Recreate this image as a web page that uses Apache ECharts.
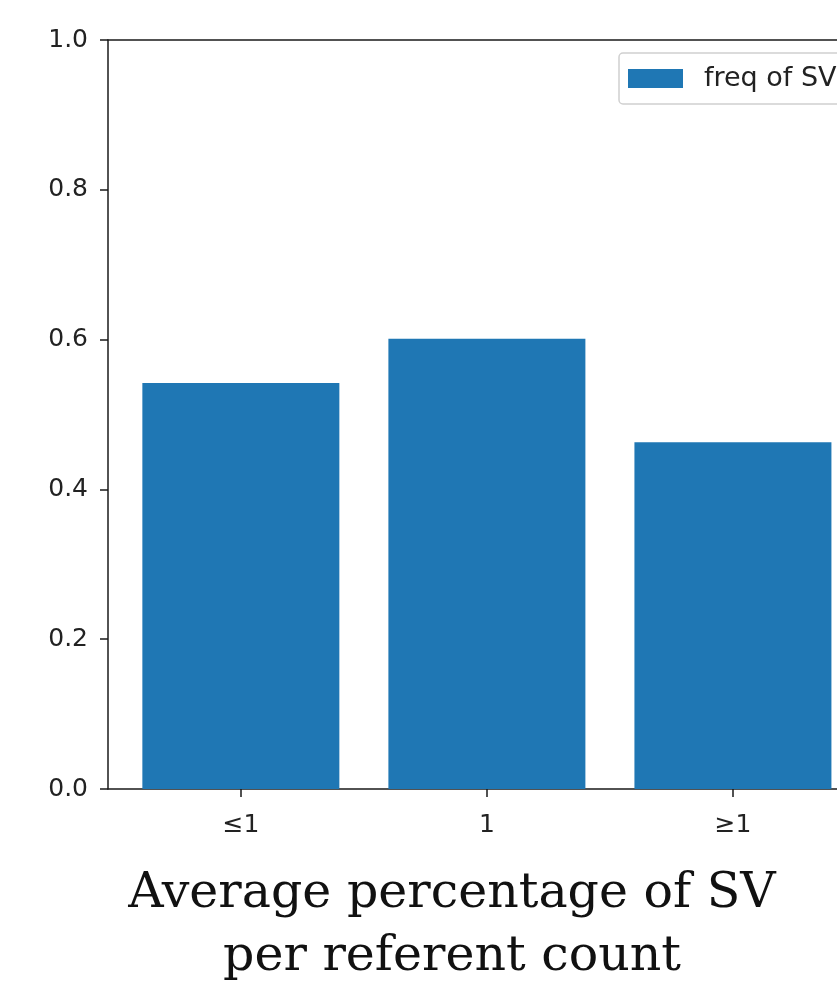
<!DOCTYPE html>
<html><head><meta charset="utf-8">
<script src="https://cdn.jsdelivr.net/npm/echarts@6/dist/echarts.min.js"></script>
<style>html,body{margin:0;padding:0;background:#fff}#c{width:837px;height:986px}</style>
</head><body><div id="c"></div>
<script>
const categories = ['≤1', '1', '≥1'];
const freqValues = [0.542, 0.601, 0.463];
const yTickValues = [0, 0.2, 0.4, 0.6, 0.8, 1.0];
const seriesName = 'freq of SV';
const titleText = 'Average percentage of SV\nper referent count';

const chart = echarts.init(document.getElementById('c'), null, {renderer: 'canvas'});
const tickFont = {fontFamily: 'DejaVu Sans', fontSize: 25, color: '#222'};
const lineCol = '#1a1a1a';
chart.setOption({
  animation: false,
  backgroundColor: '#fff',
  grid: {left: 108, top: 40, height: 749, right: 0},
  legend: {
    data: [seriesName], left: 619, top: 53, padding: [12, 200, 12, 9],
    itemWidth: 55, itemHeight: 19, itemGap: 10,
    borderColor: '#d0d0d0', borderWidth: 1.5, borderRadius: 4,
    icon: 'rect',
    textStyle: {fontFamily: 'DejaVu Sans', fontSize: 27, color: '#222', padding: [0, 0, 0, 16]}
  },
  xAxis: [{
    type: 'value', min: -0.54, max: 2.423,
    splitLine: {show: false},
    axisLine: {show: true, onZero: false, lineStyle: {color: lineCol, width: 1.5}},
    axisTick: {show: true, length: 8, lineStyle: {color: lineCol, width: 1.5}, customValues: [0, 1, 2]},
    axisLabel: Object.assign({margin: 24, customValues: [0, 1, 2], formatter: v => categories[Math.round(v)]}, tickFont)
  }, {
    type: 'value', position: 'top', min: -0.54, max: 2.423,
    splitLine: {show: false}, axisTick: {show: false}, axisLabel: {show: false},
    axisLine: {show: true, onZero: false, lineStyle: {color: lineCol, width: 1.5}}
  }],
  yAxis: {
    type: 'value', min: 0, max: 1, interval: 0.2,
    splitLine: {show: false},
    axisLine: {show: true, onZero: false, lineStyle: {color: lineCol, width: 1.5}},
    axisTick: {show: true, length: 8, lineStyle: {color: lineCol, width: 1.5}},
    axisLabel: Object.assign({margin: 20, customValues: yTickValues, formatter: v => v.toFixed(1)}, tickFont)
  },
  series: [{
    name: seriesName, type: 'bar', barWidth: 197,
    itemStyle: {color: '#1f77b4'},
    data: freqValues.map((v, i) => [i, v])
  }],
  graphic: [{
    type: 'text', x: 452, y: 863, z: 10,
    style: {text: titleText, textAlign: 'center', font: '49px "DejaVu Serif"', lineHeight: 63, fill: '#111'}
  }]
});
</script></body></html>
